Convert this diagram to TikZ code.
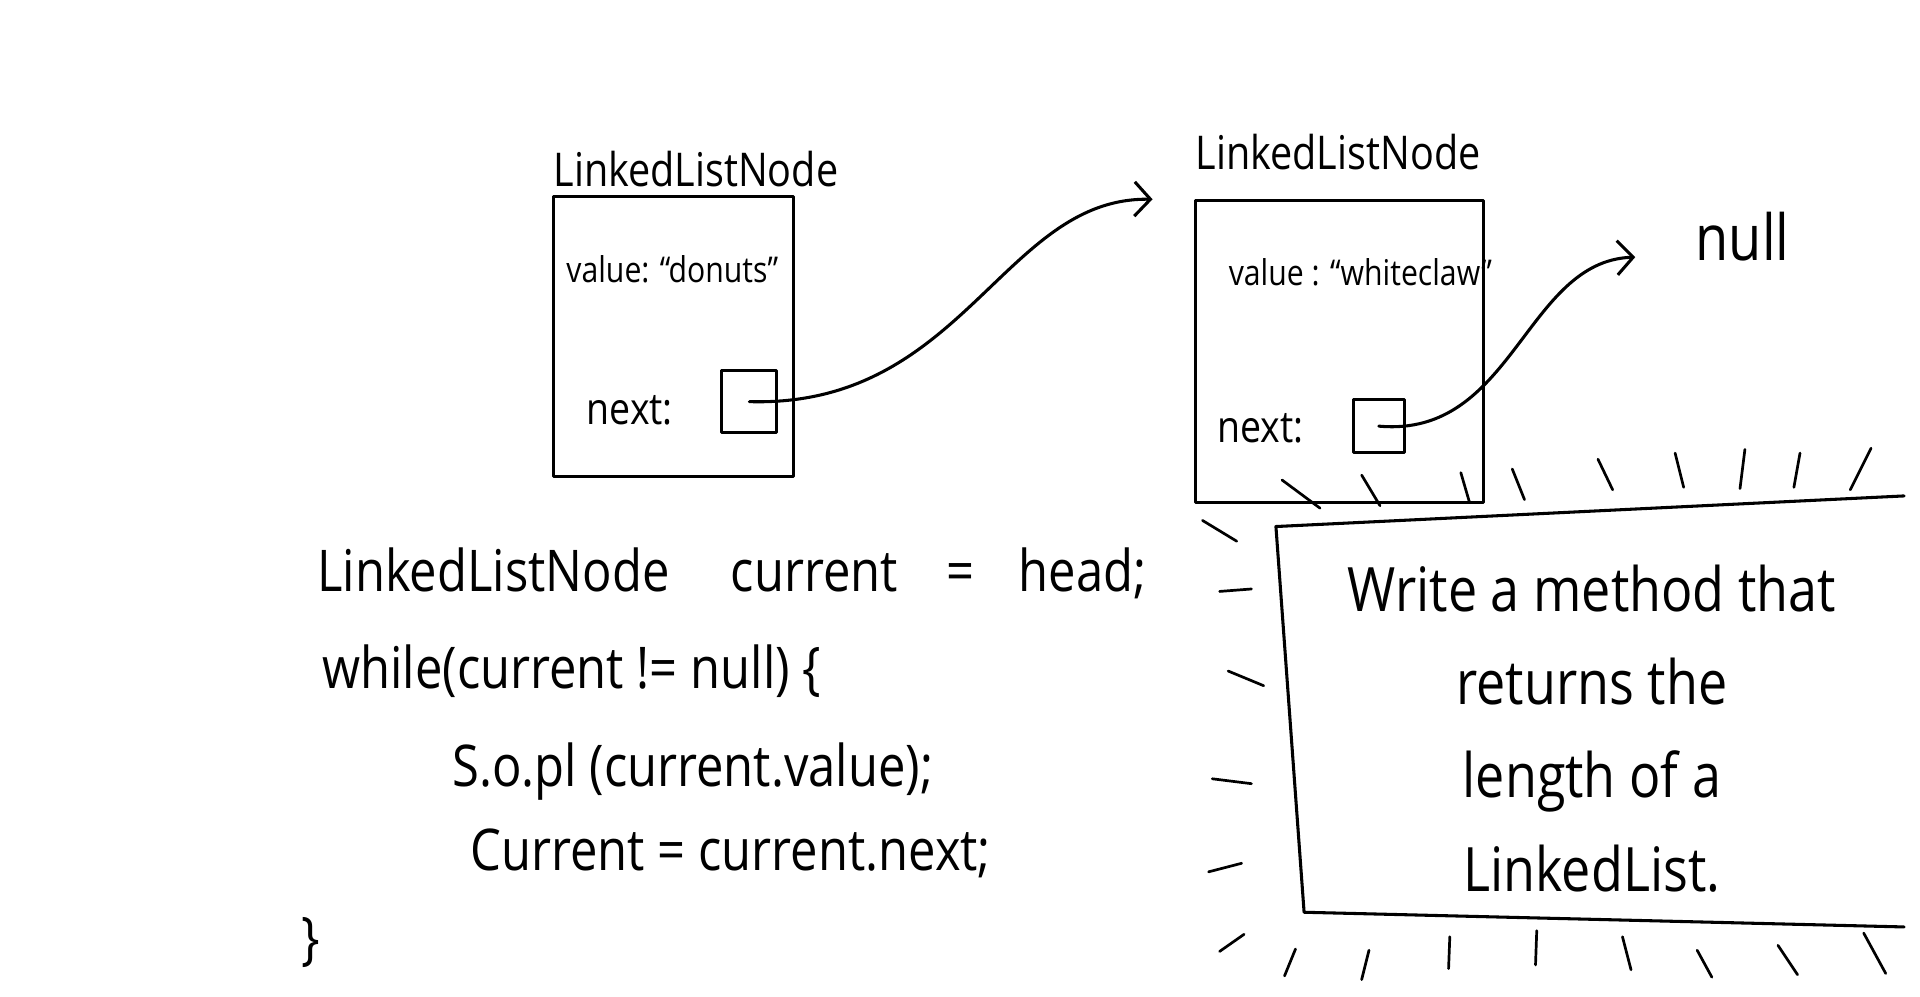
\documentclass[tikz,border=0pt]{standalone}
\usepackage{fontspec}
\setmainfont{Open Sans}[FakeStretch=0.85]
\usetikzlibrary{positioning, arrows.meta}

\begin{document}
\begin{tikzpicture}[x=1pt, y=-1pt, line width=2.5pt, line join=round, line cap=round,
	listbox/.style={draw, inner sep=0pt},
	ptrbox/.style={draw, inner sep=0pt},
	typename/.style={font=\fontsize{38}{42}\selectfont, inner sep=0pt},
	field/.style={font=\fontsize{29}{34}\selectfont, inner sep=0pt},
	nextfield/.style={font=\fontsize{36}{40}\selectfont, anchor=west, inner sep=0pt},
	codeline/.style={font=\fontsize{47}{52}\selectfont, anchor=west, inner sep=0pt},
	nulltext/.style={font=\fontsize{52}{56}\selectfont, inner sep=0pt},
	task/.style={font=\fontsize{50}{76}\selectfont, align=center, inner sep=0pt},
	link/.style={-{Straight Barb[length=13pt, width=28pt]}},
	ray/.style={line width=2.2pt}]
	\useasboundingbox (0,0) rectangle (1568,814);

	% first node
	\node[listbox, minimum width=196pt, minimum height=229pt] (box1) at (550,275) {};
	\node[typename, above right=5pt and 0pt of box1.north west] (name1) {LinkedListNode};
	\node[field] (val1) at (549,220) {value: ``donuts''};
	\node[nextfield] (next1) at (478,335) {next:};
	\node[ptrbox, minimum width=45pt, minimum height=51pt] (ptr1) at (612,328) {};

	% second node
	\node[listbox, minimum width=235pt, minimum height=246pt] (box2) at (1094,287) {};
	\node[typename, above right=23pt and 0pt of box2.north west] (name2) {LinkedListNode};
	\node[field] (val2) at (1111,222) {value : ``whiteclaw''};
	\node[nextfield] (next2) at (993,350) {next:};
	\node[ptrbox, minimum width=42pt, minimum height=43pt] (ptr2) at (1126,348) {};
	\node[nulltext] (null) at (1423,193) {null};

	\coordinate (in2) at ([xshift=-34pt]box2.north west);
	\coordinate (in3) at ([xshift=-48pt, yshift=-17pt]null.west);
	\draw[link] (ptr1.center) .. controls +(175,5) and +(-122,-2) .. (in2);
	\draw[link] (ptr2.center) .. controls +(110,10) and +(-90,3) .. (in3);

	% loop
	\node[codeline] (line1) at (258,468) {LinkedListNode\hspace{50pt}current\hspace{40pt}=\hspace{36pt}head;};
	\node[codeline] (line2) at (262,548) {while(current != null) \{};
	\node[codeline] (line3) at (368,630) {S.o.pl (current.value);};
	\node[codeline] (line4) at (383,697) {Current = current.next;};
	\node[codeline] (line5) at (245,770) {\}};

	% exercise
	\draw (1555,405) -- (1042,430) -- (1065,745) -- (1555,757);
	\node[task] (task) at (1300,595) {Write a method that\\returns the\\length of a\\LinkedList.};
	\foreach \xa/\ya/\xb/\yb in {1047/392/1078/415, 1112/388/1127/413, 1193/386/1200/410,
			1235/383/1245/408, 1305/375/1317/400, 1368/370/1375/398, 1425/367/1421/399,
			1470/370/1465/398, 1528/366/1511/400,
			982/425/1010/442, 996/483/1022/481, 1003/548/1032/560, 990/636/1022/640, 987/712/1014/705,
			996/777/1016/763, 1049/797/1058/775, 1112/800/1118/776, 1183/791/1184/765,
			1254/788/1255/760, 1332/792/1325/765, 1398/798/1386/776, 1468/796/1452/772, 1540/795/1522/762}
		\draw[ray] (\xa,\ya) -- (\xb,\yb);
\end{tikzpicture}
\end{document}
